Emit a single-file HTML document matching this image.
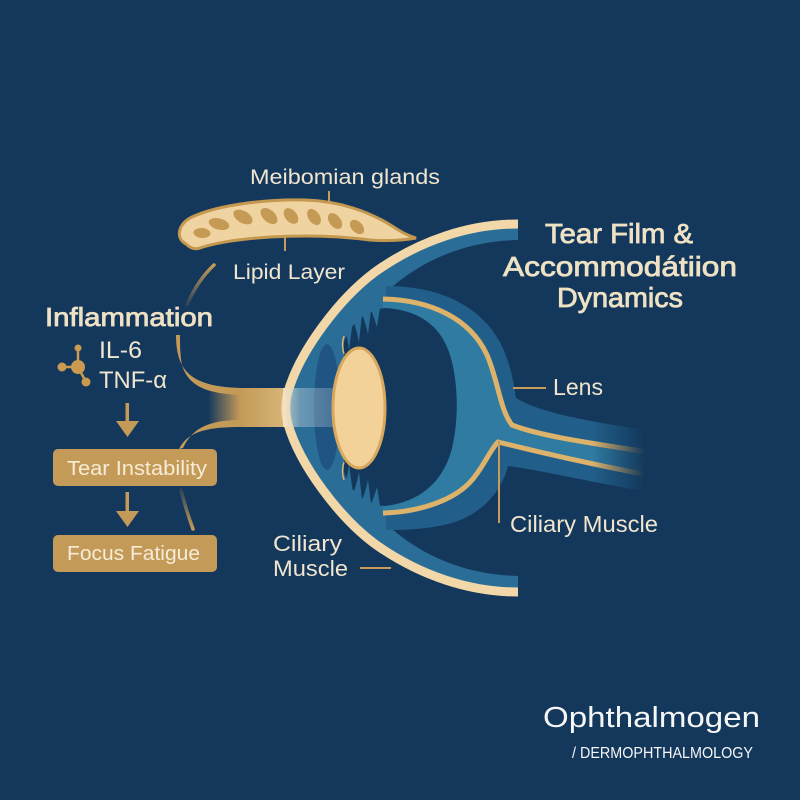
<!DOCTYPE html>
<html><head><meta charset="utf-8"><style>html,body{margin:0;padding:0;background:#14385b;}svg{display:block;}</style></head>
<body>
<svg width="800" height="800" viewBox="0 0 800 800" xmlns="http://www.w3.org/2000/svg" font-family="'Liberation Sans', 'DejaVu Sans', sans-serif">
<defs>
<linearGradient id="trunk" gradientUnits="userSpaceOnUse" x1="208" y1="0" x2="288" y2="0">
<stop offset="0" stop-color="#c39a58" stop-opacity="0"/>
<stop offset="0.4" stop-color="#c39a58" stop-opacity="1"/>
<stop offset="1" stop-color="#d8b67a" stop-opacity="1"/>
</linearGradient>
<linearGradient id="beam" gradientUnits="userSpaceOnUse" x1="284" y1="0" x2="338" y2="0">
<stop offset="0" stop-color="#f7e6c6" stop-opacity="0.75"/>
<stop offset="0.3" stop-color="#b9cbd8" stop-opacity="0.45"/>
<stop offset="1" stop-color="#9fb9cf" stop-opacity="0.3"/>
</linearGradient>
<linearGradient id="fadeg" gradientUnits="userSpaceOnUse" x1="592" y1="0" x2="645" y2="0">
<stop offset="0" stop-color="#fff"/>
<stop offset="1" stop-color="#000"/>
</linearGradient>
<mask id="fade" maskUnits="userSpaceOnUse" x="0" y="0" width="800" height="800">
<rect width="800" height="800" fill="url(#fadeg)"/>
</mask>
<linearGradient id="arcTop" gradientUnits="userSpaceOnUse" x1="0" y1="264" x2="0" y2="306">
<stop offset="0" stop-color="#c99d58" stop-opacity="1"/>
<stop offset="1" stop-color="#c99d58" stop-opacity="0.1"/>
</linearGradient>
<linearGradient id="arcBot" gradientUnits="userSpaceOnUse" x1="0" y1="488" x2="0" y2="530">
<stop offset="0" stop-color="#c99d58" stop-opacity="0.1"/>
<stop offset="1" stop-color="#c99d58" stop-opacity="1"/>
</linearGradient>
</defs>

<rect width="800" height="800" fill="#14385b"/>

<!-- Meibomian gland -->
<path d="M186,244 C175,238 178,224 192,217 C220,204 270,199 305,200 C340,201 370,212 392,226 C400,231 406,235 416,238 C400,241 385,241 370,240 C340,236 305,235 270,237 C240,239 215,243 200,248 C194,250 189,247 186,244 Z" fill="#efd3a0" stroke="#c4984f" stroke-width="3"/>
<g fill="#c59a55">
<ellipse cx="202" cy="233" rx="8.5" ry="5" transform="rotate(5 202 233)"/>
<ellipse cx="219" cy="224" rx="10.5" ry="5.6" transform="rotate(15 219 224)"/>
<ellipse cx="243" cy="217" rx="10.5" ry="6" transform="rotate(30 243 217)"/>
<ellipse cx="269" cy="216" rx="10" ry="6" transform="rotate(42 269 216)"/>
<ellipse cx="291" cy="216" rx="9" ry="5.8" transform="rotate(50 291 216)"/>
<ellipse cx="314" cy="217" rx="9" ry="5.6" transform="rotate(55 314 217)"/>
<ellipse cx="335" cy="221" rx="9" ry="5.6" transform="rotate(52 335 221)"/>
<ellipse cx="357" cy="227" rx="8.5" ry="5.4" transform="rotate(45 357 227)"/>
</g>

<!-- left trunk / branches -->
<rect x="208" y="388" width="80" height="39" fill="url(#trunk)"/>
<path d="M176,335 C176,372 192,387 242,388 L242,395 C205,394 188,385 182,365 C180,355 180,345 180,335 Z" fill="#c39a58"/>
<path d="M179,449 C188,432 205,427 242,427 L242,420 C210,420 193,427 183,448 Z" fill="#c39a58"/>
<path d="M214,265 Q197,281 187,305" fill="none" stroke="url(#arcTop)" stroke-width="3.5" stroke-linecap="round"/>
<path d="M181,490 Q186,510 193,529" fill="none" stroke="url(#arcBot)" stroke-width="3.5" stroke-linecap="round"/>

<!-- cornea fill -->
<path d="M518,224 C470,224 420,240 375,272 C340,298 300,350 288,392 C285,402 285,414 288,424 C300,466 340,518 375,544 C420,576 470,592 518,592 Z" fill="#2a6e98"/>
<!-- dark interior right of band -->
<path d="M518,240 C472,241 428,256 392,287 L392,529 C428,560 472,575 518,576 Z" fill="#14385b"/>
<!-- darker anterior zone -->
<ellipse cx="327" cy="407" rx="13" ry="63" fill="#1f5483"/>

<!-- crescent + nerve -->
<g mask="url(#fade)">
<path d="M386,286 C440,286 480,306 500,342 C511,364 514,385 516,398 C535,410 575,420 648,430 L648,492 C580,480 540,470 508,466 C502,490 484,512 455,522 C432,529 408,530 386,530 Z" fill="#215f8a"/>
<path d="M383,300 C430,300 470,318 487,355 C498,380 500,410 512,425 C540,436 590,443 648,452 L648,475 C580,463 530,450 498,442 C490,450 484,466 472,480 C455,500 420,512 383,513 Z" fill="#2f7ba2"/>
<path d="M383,299 C430,300 470,318 487,355 C498,380 500,410 512,425 C540,436 590,443 648,452" fill="none" stroke="#ddb26a" stroke-width="5"/>
<path d="M383,513 C420,512 455,500 472,480 C484,466 490,450 498,442 C530,450 580,462 648,475" fill="none" stroke="#ddb26a" stroke-width="5"/>
</g>

<!-- inner dark region -->
<path d="M385,308 C420,310 444,327 452,362 C459,392 458,426 451,452 C442,482 420,502 385,506 C365,505 350,492 344,472 L344,342 C350,324 365,310 385,308 Z" fill="#14385b"/>

<!-- fringes -->
<g fill="#2a6e98">
<path d="M340,316 Q347,332 349,350 L353,320 Z"/>
<path d="M350,312 Q356,326 359,342 L362,314 Z"/>
<path d="M360,309 Q365,320 368,334 L371,311 Z"/>
<path d="M370,307 Q374,317 377,327 L380,308 Z"/>
<path d="M340,498 Q347,482 349,464 L353,494 Z"/>
<path d="M350,502 Q356,488 359,472 L362,500 Z"/>
<path d="M360,505 Q365,494 368,480 L371,503 Z"/>
<path d="M370,507 Q374,497 377,487 L380,506 Z"/>
</g>

<!-- cornea cream -->
<path d="M518,224 C470,224 420,240 375,272 C340,298 300,350 288,392 C285,402 285,414 288,424 C300,466 340,518 375,544 C420,576 470,592 518,592" fill="none" stroke="#f2d7a8" stroke-width="9"/>

<!-- light beam -->
<rect x="283" y="388" width="54" height="39" fill="url(#beam)"/>

<!-- lens -->
<path d="M344,336 Q341,345 344,354" fill="none" stroke="#ddb26a" stroke-width="1.5"/>
<path d="M344,462 Q341,471 344,480" fill="none" stroke="#ddb26a" stroke-width="1.5"/>
<ellipse cx="359" cy="408" rx="26" ry="60" fill="#f3d29a" stroke="#d8a95c" stroke-width="3"/>

<!-- leader lines -->
<g stroke="#c79c58" stroke-width="2">
<line x1="329" y1="191" x2="329" y2="203"/>
<line x1="285" y1="236" x2="285" y2="251"/>
<line x1="513" y1="388" x2="546" y2="388"/>
<line x1="499" y1="441" x2="499" y2="523"/>
<line x1="360" y1="568" x2="391" y2="568"/>
</g>

<!-- molecule icon -->
<g stroke="#c99a50" stroke-width="2.5">
<line x1="78" y1="367" x2="78" y2="349"/>
<line x1="78" y1="367" x2="62" y2="367"/>
<line x1="78" y1="367" x2="86" y2="382"/>
</g>
<g fill="#c99a50">
<circle cx="78" cy="367" r="7"/>
<circle cx="78" cy="348" r="3.5"/>
<circle cx="62" cy="367" r="4.5"/>
<circle cx="86" cy="382" r="4.5"/>
</g>

<!-- arrows -->
<g fill="#c39a58">
<rect x="125.5" y="403" width="3.5" height="20"/>
<polygon points="116,421 139,421 127.5,437"/>
<rect x="125.5" y="492" width="3.5" height="21"/>
<polygon points="116,511 139,511 127.5,527"/>
</g>

<!-- boxes -->
<rect x="53" y="449" width="164" height="37" rx="5" fill="#c39a58"/>
<rect x="53" y="535" width="164" height="37" rx="5" fill="#c39a58"/>

<!-- texts -->
<g fill="#f0e5cf">
<text x="250" y="184" font-size="21" textLength="190" lengthAdjust="spacingAndGlyphs">Meibomian glands</text>
<text x="233" y="279" font-size="21" textLength="112" lengthAdjust="spacingAndGlyphs">Lipid Layer</text>
<text x="273" y="551" font-size="22" textLength="69" lengthAdjust="spacingAndGlyphs">Ciliary</text>
<text x="273" y="576" font-size="22" textLength="75" lengthAdjust="spacingAndGlyphs">Muscle</text>
<text x="553" y="395" font-size="23" textLength="50" lengthAdjust="spacingAndGlyphs">Lens</text>
<text x="510" y="532" font-size="23" textLength="148" lengthAdjust="spacingAndGlyphs">Ciliary Muscle</text>
<text x="99" y="358" font-size="24" textLength="43" lengthAdjust="spacingAndGlyphs">IL-6</text>
<text x="99" y="388" font-size="24" textLength="68" lengthAdjust="spacingAndGlyphs">TNF-α</text>
</g>
<g fill="#efe2c4" stroke="#efe2c4" stroke-width="0.8">
<text x="545" y="243" font-size="28" textLength="148" lengthAdjust="spacingAndGlyphs">Tear Film &amp;</text>
<text x="503" y="276" font-size="28" textLength="234" lengthAdjust="spacingAndGlyphs">Accommodátiion</text>
<text x="557" y="307" font-size="28" textLength="126" lengthAdjust="spacingAndGlyphs">Dynamics</text>
<text x="45" y="326" font-size="26" textLength="168" lengthAdjust="spacingAndGlyphs">Inflammation</text>
</g>
<g fill="#f7ecd6">
<text x="67" y="475" font-size="20" textLength="140" lengthAdjust="spacingAndGlyphs">Tear Instability</text>
<text x="67" y="560" font-size="20" textLength="133" lengthAdjust="spacingAndGlyphs">Focus Fatigue</text>
</g>
<g fill="#f6f6f6">
<text x="543" y="727" font-size="29" textLength="217" lengthAdjust="spacingAndGlyphs">Ophthalmogen</text>
<text x="572" y="758" font-size="16" textLength="181" lengthAdjust="spacingAndGlyphs">/ DERMOPHTHALMOLOGY</text>
</g>
</svg>
</body></html>
